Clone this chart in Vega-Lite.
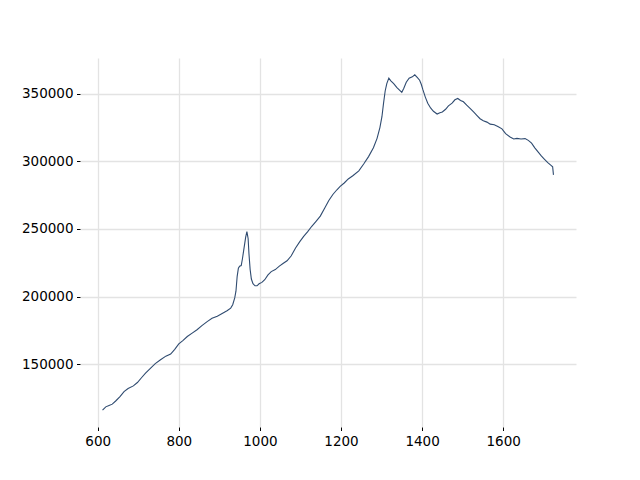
{
  "$schema": "https://vega.github.io/schema/vega-lite/v6.json",
  "width": 496,
  "height": 369,
  "autosize": "none",
  "padding": {"left": 80, "top": 58, "right": 64, "bottom": 53},
  "background": "white",
  "config": {"view": {"stroke": null}},
  "data": {"values": [
    {"x":612,"y":116000},{"x":620,"y":118500},{"x":628,"y":119500},{"x":636,"y":120500},{"x":645,"y":123000},
    {"x":655,"y":126000},{"x":665,"y":129800},{"x":675,"y":132000},{"x":688,"y":134000},{"x":698,"y":136500},
    {"x":708,"y":140000},{"x":718,"y":143500},{"x":730,"y":147000},{"x":742,"y":150500},{"x":755,"y":153300},
    {"x":768,"y":156000},{"x":780,"y":157500},{"x":790,"y":161000},{"x":800,"y":165000},{"x":810,"y":167500},
    {"x":821,"y":170500},{"x":833,"y":173000},{"x":845,"y":175500},{"x":857,"y":178500},{"x":870,"y":181500},
    {"x":882,"y":184000},{"x":895,"y":185500},{"x":907,"y":187500},{"x":919,"y":189500},{"x":928,"y":191500},
    {"x":933,"y":194000},{"x":938,"y":199000},{"x":941,"y":204000},{"x":944,"y":215000},{"x":947,"y":221000},
    {"x":950,"y":222500},{"x":954,"y":223000},{"x":957,"y":228000},{"x":961,"y":236000},{"x":965,"y":244000},
    {"x":968,"y":248000},{"x":971,"y":243000},{"x":973,"y":232000},{"x":976,"y":220000},{"x":979,"y":213000},
    {"x":983,"y":209500},{"x":988,"y":208000},{"x":993,"y":208000},{"x":998,"y":209500},{"x":1005,"y":210500},
    {"x":1012,"y":212500},{"x":1020,"y":216000},{"x":1028,"y":218500},{"x":1038,"y":220000},{"x":1048,"y":222500},
    {"x":1057,"y":224500},{"x":1067,"y":226500},{"x":1077,"y":230000},{"x":1088,"y":236000},{"x":1098,"y":240500},
    {"x":1108,"y":244500},{"x":1118,"y":248000},{"x":1128,"y":252000},{"x":1138,"y":255500},{"x":1149,"y":259500},
    {"x":1160,"y":265500},{"x":1170,"y":271000},{"x":1180,"y":275500},{"x":1190,"y":279000},{"x":1198,"y":281500},
    {"x":1208,"y":284000},{"x":1218,"y":287000},{"x":1230,"y":289500},{"x":1244,"y":293000},{"x":1256,"y":298000},
    {"x":1268,"y":303500},{"x":1280,"y":310000},{"x":1289,"y":317000},{"x":1296,"y":325000},{"x":1301,"y":333000},
    {"x":1305,"y":343000},{"x":1309,"y":352000},{"x":1313,"y":357500},{"x":1318,"y":361500},{"x":1323,"y":359500},
    {"x":1330,"y":357500},{"x":1338,"y":354500},{"x":1345,"y":352500},{"x":1350,"y":351000},{"x":1355,"y":354000},
    {"x":1361,"y":358500},{"x":1368,"y":361500},{"x":1376,"y":362500},{"x":1382,"y":364000},{"x":1388,"y":362000},
    {"x":1394,"y":360000},{"x":1398,"y":357000},{"x":1402,"y":353000},{"x":1408,"y":347500},{"x":1414,"y":343000},
    {"x":1421,"y":339500},{"x":1428,"y":337000},{"x":1437,"y":335000},{"x":1444,"y":336000},{"x":1450,"y":336500},
    {"x":1458,"y":338500},{"x":1465,"y":341000},{"x":1474,"y":343000},{"x":1481,"y":345500},{"x":1488,"y":346500},
    {"x":1495,"y":345000},{"x":1502,"y":344000},{"x":1510,"y":341500},{"x":1519,"y":339000},{"x":1527,"y":336500},
    {"x":1535,"y":334000},{"x":1543,"y":331500},{"x":1551,"y":330000},{"x":1560,"y":329000},{"x":1568,"y":327500},
    {"x":1578,"y":327000},{"x":1588,"y":325500},{"x":1597,"y":324000},{"x":1606,"y":320500},{"x":1617,"y":318000},
    {"x":1626,"y":316500},{"x":1634,"y":317000},{"x":1644,"y":316500},{"x":1654,"y":316800},{"x":1662,"y":315500},
    {"x":1670,"y":313500},{"x":1678,"y":310000},{"x":1686,"y":307000},{"x":1694,"y":304000},{"x":1702,"y":301500},
    {"x":1710,"y":299000},{"x":1718,"y":297000},{"x":1722,"y":296000},{"x":1724,"y":290000}
  ]},
  "mark": {"type": "line", "color": "#2f4b70", "strokeWidth": 1.1, "clip": true},
  "encoding": {
    "x": {
      "field": "x", "type": "quantitative",
      "scale": {"domain": [556.4, 1779.6], "nice": false, "zero": false},
      "axis": {
        "title": null, "values": [600, 800, 1000, 1200, 1400, 1600], "format": "d",
        "domain": false, "ticks": true, "tickColor": "black", "tickSize": 3.5, "tickWidth": 1,
        "labelFont": "DejaVu Sans", "labelFontSize": 13.5, "labelColor": "black", "labelPadding": 3.5,
        "grid": true, "gridColor": "#e3e3e3", "gridWidth": 1.3
      }
    },
    "y": {
      "field": "y", "type": "quantitative",
      "scale": {"domain": [103600, 376400], "nice": false, "zero": false},
      "axis": {
        "title": null, "values": [150000, 200000, 250000, 300000, 350000], "format": "d",
        "domain": false, "ticks": true, "tickColor": "black", "tickSize": 3.5, "tickWidth": 1,
        "labelFont": "DejaVu Sans", "labelFontSize": 13.5, "labelColor": "black", "labelPadding": 3.5,
        "grid": true, "gridColor": "#e3e3e3", "gridWidth": 1.3
      }
    }
  }
}
